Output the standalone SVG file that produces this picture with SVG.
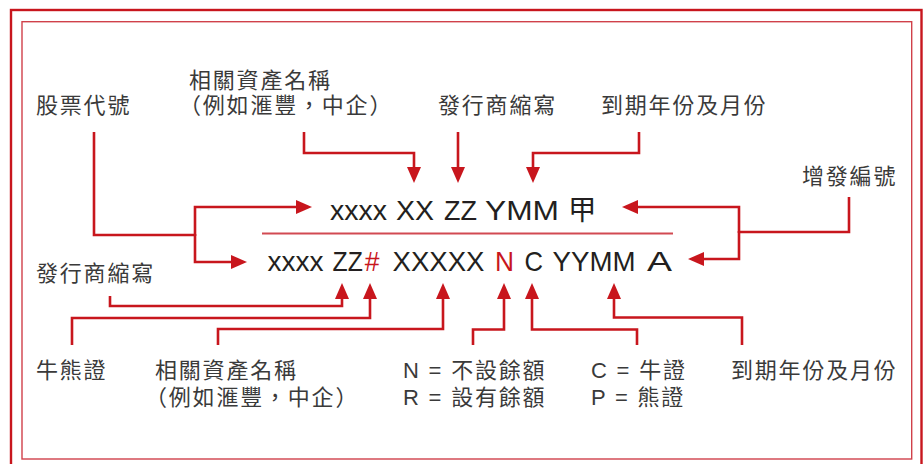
<svg xmlns="http://www.w3.org/2000/svg" width="923" height="464" viewBox="0 0 923 464">
<defs>
<style>
.lbl{font-family:"Liberation Sans","Noto Sans CJK TC",sans-serif;font-size:22px;fill:#3a3a3a;letter-spacing:1.8px}
.code{font-family:"Liberation Sans","Noto Sans CJK TC",sans-serif;font-size:28.5px;fill:#231f20}
.red{fill:#c8161d}
.cn{fill:none;stroke:#c8161d;stroke-width:2.6;stroke-linejoin:miter}
.arr{marker-end:url(#ah)}
</style>
<marker id="ah" viewBox="0 0 16 14" refX="6" refY="7" markerWidth="16" markerHeight="14" markerUnits="userSpaceOnUse" orient="auto">
<path d="M0,0 L16,7 L0,14 z" fill="#c8161d"/>
</marker>
</defs>
<rect width="923" height="464" fill="#ffffff"/>
<rect id="outer" x="11" y="10" width="910.5" height="480" fill="none" stroke="#c8161d" stroke-width="2.4"/>
<rect id="inner" x="22" y="21.7" width="889.7" height="437.3" fill="none" stroke="#d0414a" stroke-width="1.4"/>

<g id="connectors">
<path class="cn" d="M94,132 V235 H195"/>
<path class="cn arr" d="M195,236 V207 H302"/>
<path class="cn arr" d="M195,234 V262 H237"/>
<path class="cn arr" d="M304,132 V153 H414 V173"/>
<path class="cn arr" d="M458,132 V173"/>
<path class="cn arr" d="M639,132 V153 H533 V173"/>
<path class="cn" d="M849,197 V232 H739"/>
<path class="cn arr" d="M739,233 V207 H632"/>
<path class="cn arr" d="M739,231 V259 H698"/>
<path class="cn arr" d="M110,296 V306 H342 V293"/>
<path class="cn arr" d="M72,345 V318 H370 V293"/>
<path class="cn arr" d="M218,345 V329 H443 V293"/>
<path class="cn arr" d="M473,345 V329.5 H504 V293"/>
<path class="cn arr" d="M637,345 V329.5 H532 V293"/>
<path class="cn arr" d="M742,345 V317.5 H614 V293"/>
<line x1="262" y1="233.5" x2="673" y2="233.5" stroke="#d24a52" stroke-width="1.8"/>
</g>

<g id="code-old">
<text class="code" x="330" y="220" textLength="57" lengthAdjust="spacingAndGlyphs">xxxx</text>
<text class="code" x="396" y="220" textLength="38" lengthAdjust="spacingAndGlyphs">XX</text>
<text class="code" x="444" y="220" textLength="33" lengthAdjust="spacingAndGlyphs">ZZ</text>
<text class="code" x="485" y="220" textLength="74" lengthAdjust="spacingAndGlyphs">YMM</text>
<text class="code" x="568" y="220" font-size="26">甲</text>
</g>
<g id="code-new">
<text class="code" x="267.5" y="270.5" textLength="56" lengthAdjust="spacingAndGlyphs">xxxx</text>
<text class="code" transform="translate(332.5,270.5) scale(0.87,1)">ZZ</text>
<text class="code red" transform="translate(364.8,270.5) scale(0.93,1)">#</text>
<text class="code" x="392.5" y="270.5" textLength="92" lengthAdjust="spacingAndGlyphs">XXXXX</text>
<text class="code red" x="495" y="270.5" textLength="19" lengthAdjust="spacingAndGlyphs">N</text>
<text class="code" x="524.5" y="270.5" textLength="18.5" lengthAdjust="spacingAndGlyphs">C</text>
<text class="code" x="552.5" y="270.5" textLength="83" lengthAdjust="spacingAndGlyphs">YYMM</text>
<text class="code" x="647" y="270.5" textLength="25" lengthAdjust="spacingAndGlyphs">A</text>
</g>

<g id="label-stock-code"><text class="lbl" x="36" y="113">股票代號</text></g>
<g id="label-asset-top"><text class="lbl" x="189" y="88">相關資產名稱</text><text class="lbl" x="179" y="113">（例如滙豐，中企）</text></g>
<g id="label-issuer-top"><text class="lbl" x="438" y="113">發行商縮寫</text></g>
<g id="label-expiry-top"><text class="lbl" x="601" y="113">到期年份及月份</text></g>
<g id="label-tranche"><text class="lbl" x="802" y="184">增發編號</text></g>
<g id="label-issuer-left"><text class="lbl" x="36" y="281">發行商縮寫</text></g>
<g id="label-cbbc"><text class="lbl" x="36" y="378">牛熊證</text></g>
<g id="label-asset-bottom"><text class="lbl" x="155" y="378">相關資產名稱</text><text class="lbl" x="145" y="405">（例如滙豐，中企）</text></g>
<g id="label-residual"><text class="lbl" x="403" y="378">N = 不設餘額</text><text class="lbl" x="403" y="405">R = 設有餘額</text></g>
<g id="label-bullbear"><text class="lbl" x="591" y="378">C = 牛證</text><text class="lbl" x="591" y="405">P = 熊證</text></g>
<g id="label-expiry-bottom"><text class="lbl" x="731" y="378">到期年份及月份</text></g>
</svg>
